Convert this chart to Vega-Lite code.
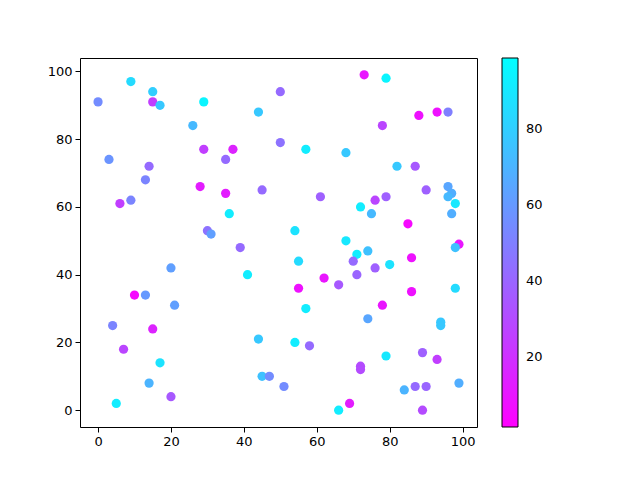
{
  "$schema": "https://vega.github.io/schema/vega-lite/v6.json",
  "autosize": {"type": "none"},
  "width": 397,
  "height": 369,
  "padding": {"left": 80, "top": 58, "right": 163, "bottom": 53},
  "background": "white",
  "config": {
    "view": {"stroke": "black", "strokeWidth": 1},
    "font": "DejaVu Sans",
    "axis": {"grid": false, "domain": false, "tickColor": "black", "tickSize": 5, "labelColor": "black", "labelFontSize": 13, "labelFont": "DejaVu Sans", "labelPadding": 3}
  },
  "data": {"values": [
    {"x": 9, "y": 97, "c": 85}, {"x": 15, "y": 94, "c": 80}, {"x": 0, "y": 91, "c": 55}, {"x": 15, "y": 91, "c": 25},
    {"x": 17, "y": 90, "c": 78}, {"x": 29, "y": 91, "c": 95}, {"x": 44, "y": 88, "c": 78}, {"x": 50, "y": 94, "c": 42},
    {"x": 26, "y": 84, "c": 72}, {"x": 29, "y": 77, "c": 25}, {"x": 37, "y": 77, "c": 15}, {"x": 50, "y": 79, "c": 45},
    {"x": 3, "y": 74, "c": 58}, {"x": 14, "y": 72, "c": 42}, {"x": 35, "y": 74, "c": 42}, {"x": 13, "y": 68, "c": 52},
    {"x": 28, "y": 66, "c": 12}, {"x": 35, "y": 64, "c": 12}, {"x": 45, "y": 65, "c": 42}, {"x": 6, "y": 61, "c": 25},
    {"x": 9, "y": 62, "c": 52}, {"x": 36, "y": 58, "c": 92}, {"x": 30, "y": 53, "c": 45}, {"x": 31, "y": 52, "c": 62},
    {"x": 39, "y": 48, "c": 42}, {"x": 73, "y": 99, "c": 10}, {"x": 79, "y": 98, "c": 95}, {"x": 88, "y": 87, "c": 8},
    {"x": 93, "y": 88, "c": 8}, {"x": 96, "y": 88, "c": 50}, {"x": 78, "y": 84, "c": 28}, {"x": 57, "y": 77, "c": 92},
    {"x": 68, "y": 76, "c": 78}, {"x": 82, "y": 72, "c": 78}, {"x": 87, "y": 72, "c": 35}, {"x": 96, "y": 66, "c": 65},
    {"x": 97, "y": 64, "c": 68}, {"x": 96, "y": 63, "c": 72}, {"x": 98, "y": 61, "c": 90}, {"x": 90, "y": 65, "c": 38},
    {"x": 61, "y": 63, "c": 38}, {"x": 76, "y": 62, "c": 28}, {"x": 79, "y": 63, "c": 38}, {"x": 72, "y": 60, "c": 92},
    {"x": 75, "y": 58, "c": 72}, {"x": 97, "y": 58, "c": 68}, {"x": 85, "y": 55, "c": 5}, {"x": 54, "y": 53, "c": 88},
    {"x": 68, "y": 50, "c": 90}, {"x": 99, "y": 49, "c": 10}, {"x": 98, "y": 48, "c": 75}, {"x": 20, "y": 42, "c": 62},
    {"x": 41, "y": 40, "c": 92}, {"x": 10, "y": 34, "c": 5}, {"x": 13, "y": 34, "c": 60}, {"x": 21, "y": 31, "c": 62},
    {"x": 4, "y": 25, "c": 52}, {"x": 15, "y": 24, "c": 15}, {"x": 44, "y": 21, "c": 78}, {"x": 7, "y": 18, "c": 28},
    {"x": 17, "y": 14, "c": 88}, {"x": 45, "y": 10, "c": 75}, {"x": 47, "y": 10, "c": 55}, {"x": 51, "y": 7, "c": 55},
    {"x": 14, "y": 8, "c": 70}, {"x": 20, "y": 4, "c": 35}, {"x": 5, "y": 2, "c": 92}, {"x": 71, "y": 46, "c": 92},
    {"x": 74, "y": 47, "c": 75}, {"x": 55, "y": 44, "c": 85}, {"x": 70, "y": 44, "c": 42}, {"x": 80, "y": 43, "c": 88},
    {"x": 86, "y": 45, "c": 8}, {"x": 76, "y": 42, "c": 38}, {"x": 71, "y": 40, "c": 40}, {"x": 62, "y": 39, "c": 10},
    {"x": 66, "y": 37, "c": 35}, {"x": 55, "y": 36, "c": 8}, {"x": 86, "y": 35, "c": 8}, {"x": 98, "y": 36, "c": 85},
    {"x": 78, "y": 31, "c": 10}, {"x": 57, "y": 30, "c": 92}, {"x": 74, "y": 27, "c": 65}, {"x": 94, "y": 26, "c": 78},
    {"x": 94, "y": 25, "c": 78}, {"x": 54, "y": 20, "c": 92}, {"x": 58, "y": 19, "c": 42}, {"x": 79, "y": 16, "c": 90},
    {"x": 89, "y": 17, "c": 38}, {"x": 93, "y": 15, "c": 25}, {"x": 72, "y": 13, "c": 30}, {"x": 72, "y": 12, "c": 30},
    {"x": 84, "y": 6, "c": 70}, {"x": 87, "y": 7, "c": 42}, {"x": 90, "y": 7, "c": 40}, {"x": 99, "y": 8, "c": 68},
    {"x": 69, "y": 2, "c": 12}, {"x": 66, "y": 0, "c": 92}, {"x": 89, "y": 0, "c": 30}
  ]},
  "mark": {"type": "circle", "size": 85, "opacity": 1},
  "encoding": {
    "x": {"field": "x", "type": "quantitative", "title": null,
      "scale": {"domain": [-4.95, 103.95], "nice": false, "zero": false},
      "axis": {"values": [0, 20, 40, 60, 80, 100]}},
    "y": {"field": "y", "type": "quantitative", "title": null,
      "scale": {"domain": [-4.95, 103.95], "nice": false, "zero": false},
      "axis": {"values": [0, 20, 40, 60, 80, 100]}},
    "color": {"field": "c", "type": "quantitative",
      "scale": {"domain": [1.5, 98.8], "range": ["#ff00ff", "#00ffff"], "interpolate": "rgb"},
      "legend": {"orient": "none", "legendX": 422, "legendY": 0, "title": null, "direction": "vertical",
        "gradientLength": 369, "gradientThickness": 16, "gradientStrokeColor": "black", "gradientStrokeWidth": 1,
        "values": [20, 40, 60, 80], "labelFontSize": 13, "labelFont": "DejaVu Sans", "labelColor": "black", "labelOffset": 8}}
  }
}
